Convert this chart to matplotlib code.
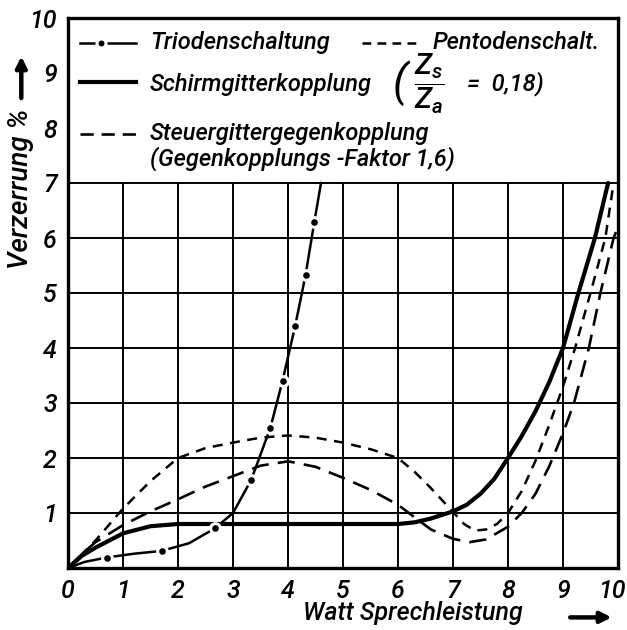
import matplotlib
matplotlib.use("Agg")
import matplotlib.pyplot as plt
import matplotlib.transforms as mtransforms

# distortion (%) vs. output power (W)
triode_x = [0, 0.3, 0.7, 1.2, 1.7, 2.2, 2.67, 3.0, 3.33, 3.68, 3.9, 4.13, 4.32, 4.48, 4.6]
triode_y = [0, 0.11, 0.19, 0.26, 0.31, 0.45, 0.72, 1.0, 1.6, 2.55, 3.4, 4.4, 5.33, 6.3, 7.0]
triode_dot_x = [0.7, 1.7, 2.67, 3.33, 3.68, 3.9, 4.13, 4.32, 4.48]
triode_dot_y = [0.19, 0.31, 0.72, 1.6, 2.55, 3.4, 4.4, 5.33, 6.3]

pentode_x = [0, 0.5, 1, 1.5, 2, 2.5, 3, 3.5, 4, 4.5, 5, 5.5, 6, 6.3, 6.6, 7,
             7.2, 7.4, 7.6, 7.8, 8, 8.25, 8.5, 8.75, 9, 9.22, 9.5, 9.77, 9.92]
pentode_y = [0, 0.5, 1.08, 1.58, 2.0, 2.18, 2.28, 2.37, 2.41, 2.37, 2.28, 2.16, 2.0, 1.75, 1.45, 1.02,
             0.8, 0.68, 0.7, 0.8, 1.0, 1.4, 1.95, 2.6, 3.3, 4.0, 5.0, 6.0, 7.0]

schirm_x = [0, 0.25, 0.5, 1, 1.5, 2, 2.5, 3, 4, 5, 6, 6.3, 6.6, 7, 7.25, 7.5,
            7.75, 8, 8.25, 8.5, 8.75, 9, 9.28, 9.58, 9.82]
schirm_y = [0, 0.22, 0.37, 0.63, 0.76, 0.8, 0.8, 0.8, 0.8, 0.8, 0.8, 0.83, 0.9, 1.03, 1.15, 1.35,
            1.62, 2.0, 2.4, 2.85, 3.38, 4.0, 5.0, 6.0, 7.0]

steuer_x = [0, 0.25, 0.5, 1, 1.5, 2, 2.5, 3, 3.5, 4, 4.5, 5, 5.5, 6, 6.33, 6.6, 7,
            7.3, 7.6, 8, 8.25, 8.5, 8.75, 9, 9.2, 9.47, 9.68, 9.92, 10]
steuer_y = [0, 0.25, 0.47, 0.78, 1.03, 1.25, 1.48, 1.67, 1.86, 1.94, 1.84, 1.64, 1.42, 1.15, 0.9, 0.7, 0.53,
            0.47, 0.52, 0.75, 1.0, 1.35, 1.85, 2.45, 3.0, 4.0, 5.0, 6.0, 6.2]

x_ticks = list(range(0, 11))
y_ticks = list(range(1, 11))
grid_x = list(range(1, 10))
grid_y = list(range(1, 8))

fnt = ["Liberation Sans Narrow", "DejaVu Sans Condensed", "Roboto", "DejaVu Sans"]
plt.rcParams["font.family"] = fnt
plt.rcParams["font.style"] = "italic"
plt.rcParams["font.weight"] = "medium"
plt.rcParams["mathtext.fontset"] = "custom"
plt.rcParams["mathtext.it"] = "Roboto:italic:medium"
plt.rcParams["mathtext.rm"] = "Roboto:italic:medium"

fig = plt.figure(figsize=(6.27, 6.30), dpi=100)
ax = fig.add_axes([68 / 627, 62 / 630, 550 / 627, 550 / 630])
ax.set_xlim(0, 10)
ax.set_ylim(0, 10)

# grid only below the legend area
ax.vlines(grid_x, 0, 7, color="black", lw=1.4, zorder=1)
ax.hlines(grid_y, 0, 10, color="black", lw=1.4, zorder=1)

ax.plot(pentode_x, pentode_y, color="black", lw=1.8, dashes=(4, 3), zorder=3)
ax.plot(steuer_x, steuer_y, color="black", lw=1.9, dashes=(6.5, 3.5), zorder=3)
ax.plot(schirm_x, schirm_y, color="black", lw=3.0, zorder=4, solid_capstyle="round")
ax.plot(triode_x, triode_y, color="black", lw=1.8, zorder=3)
ax.plot(triode_dot_x, triode_dot_y, "o", color="black", ms=7, mec="white", mew=2.2, zorder=5)

for s in ax.spines.values():
    s.set_linewidth(2.4)

ax.set_xticks(x_ticks)
ax.set_xticklabels([str(v) for v in x_ticks])
ax.set_yticks(y_ticks)
ax.set_yticklabels([str(v) for v in y_ticks])
ax.tick_params(length=0, labelsize=18, pad=8)
# pull the last x label in a little so it is not cut at the border
last = ax.get_xticklabels()[-1]
last.set_transform(last.get_transform() + mtransforms.ScaledTranslation(-6 / 100, 0, fig.dpi_scale_trans))

# legend drawn by hand, like the original
fs = 17
ax.plot([0.22, 1.24], [9.55, 9.55], color="black", lw=1.8)
ax.plot([0.6], [9.55], "o", color="black", ms=6.5, mec="white", mew=2.2)
ax.text(1.49, 9.55, "Triodenschaltung", fontsize=fs, va="center")
ax.plot([5.35, 6.4], [9.55, 9.55], color="black", lw=1.8, dashes=(3.5, 2.5))
ax.text(6.62, 9.55, "Pentodenschalt.", fontsize=fs, va="center")

ax.plot([0.22, 1.24], [8.83, 8.83], color="black", lw=3.0)
ax.text(1.49, 8.8, "Schirmgitterkopplung", fontsize=fs, va="center")
ax.text(5.9, 8.82, "(", fontsize=32, va="center", fontweight="normal")
ax.text(6.3, 8.8, r"$\dfrac{Z_s}{Z_a}$", fontsize=21, va="center")
ax.text(7.25, 8.8, "=  0,18)", fontsize=fs, va="center")

ax.plot([0.22, 1.24], [7.9, 7.9], color="black", lw=1.9, dashes=(5, 3))
ax.text(1.49, 7.9, "Steuergittergegenkopplung", fontsize=fs, va="center")
ax.text(1.49, 7.45, "(Gegenkopplungs -Faktor 1,6)", fontsize=fs, va="center")

fig.text(0.032, 0.70, "Verzerrung %", rotation=90, fontsize=20, ha="center", va="center")
fig.text(0.659, 0.027, "Watt Sprechleistung", fontsize=18, ha="center", va="center")
ax.annotate("", xy=(0.034, 0.915), xytext=(0.034, 0.84), xycoords="figure fraction",
            arrowprops=dict(arrowstyle="-|>", lw=3.2, color="black", mutation_scale=16))
ax.annotate("", xy=(0.98, 0.02), xytext=(0.905, 0.02), xycoords="figure fraction",
            arrowprops=dict(arrowstyle="-|>", lw=3.2, color="black", mutation_scale=16))

fig.savefig("out.png", dpi=100)
